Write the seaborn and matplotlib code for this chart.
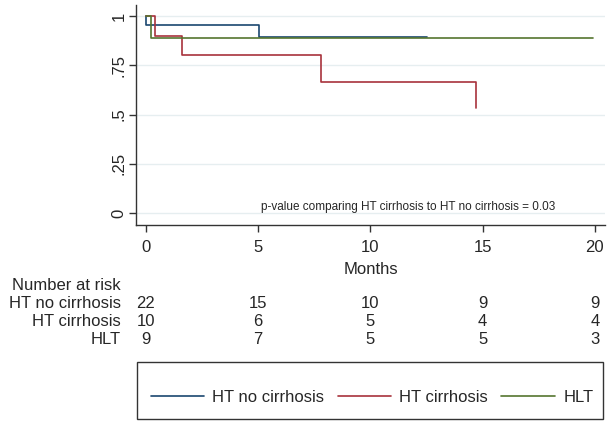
import pandas as pd
import seaborn as sns
import matplotlib.pyplot as plt
import matplotlib.transforms as mtransforms
from matplotlib.patches import Rectangle

# Kaplan-Meier step points (months, survival)
groups = ["HT no cirrhosis", "HT cirrhosis", "HLT"]
t_no_cirr = [0, 0.02, 5.05, 12.5]
s_no_cirr = [1, 0.955, 0.891, 0.891]
t_cirr = [0, 0.4, 1.6, 7.8, 14.7]
s_cirr = [1, 0.9, 0.8, 0.667, 0.533]
t_hlt = [0, 0.22, 19.9]
s_hlt = [1, 0.889, 0.889]

risk_times = [0, 5, 10, 15, 20]
risk_no_cirr = [22, 15, 10, 9, 9]
risk_cirr = [10, 6, 5, 4, 4]
risk_hlt = [9, 7, 5, 5, 3]

colors = {"HT no cirrhosis": "#1a476f", "HT cirrhosis": "#a8323c", "HLT": "#55752f"}

df = pd.concat([
    pd.DataFrame({"time": t_no_cirr, "surv": s_no_cirr, "group": groups[0]}),
    pd.DataFrame({"time": t_cirr, "surv": s_cirr, "group": groups[1]}),
    pd.DataFrame({"time": t_hlt, "surv": s_hlt, "group": groups[2]}),
])

sns.set_style("white")
plt.rcParams['font.family'] = ['Liberation Sans', 'DejaVu Sans']

fig = plt.figure(figsize=(6.11, 4.23), dpi=100)
W, H = 611, 423
ax = fig.add_axes([136 / W, 1 - 225 / H, (605 - 136) / W, (225 - 5) / H])

for g in groups:
    sub = df[df["group"] == g]
    sns.lineplot(data=sub, x="time", y="surv", ax=ax, color=colors[g],
                 drawstyle="steps-post", linewidth=1.2, label=g, legend=False,
                 estimator=None, sort=False)

ax.set_xlim(-0.445, 20.45)
ax.set_ylim(-0.061, 1.056)
ax.set_xticks(risk_times)
ax.set_yticks([0, 0.25, 0.5, 0.75, 1])
ax.set_yticklabels(["0", ".25", ".5", ".75", "1"], rotation=90, va="center")
ax.yaxis.grid(True, color="#e6eef0", linewidth=1)
ax.set_axisbelow(True)
ax.tick_params(axis="both", direction="out", length=5, width=1, color="#333333",
               labelsize=12, left=True, bottom=True)
ax.tick_params(axis="x", pad=6)
ax.tick_params(axis="y", pad=2)
for side in ["top", "right"]:
    ax.spines[side].set_visible(False)
for side in ["left", "bottom"]:
    ax.spines[side].set_color("#333333")
    ax.spines[side].set_linewidth(1)
ax.set_xlabel("Months", fontsize=12, labelpad=5)
ax.set_ylabel("")

ax.text(11.67, 0.03, "p-value comparing HT cirrhosis to HT no cirrhosis = 0.03",
        fontsize=8.5, ha="center", va="center")

# number at risk table
trans = mtransforms.blended_transform_factory(ax.transData, fig.transFigure)
fig.text(121 / W, 1 - 285 / H, "Number at risk", fontsize=12, ha="right", va="center")
rows = [risk_no_cirr, risk_cirr, risk_hlt]
row_y = [303, 321, 339]
for g, vals, yy in zip(groups, rows, row_y):
    fig.text(121 / W, 1 - yy / H, g, fontsize=12, ha="right", va="center")
    for t, v in zip(risk_times, vals):
        ax.text(t, 1 - yy / H, str(v), transform=trans, fontsize=12,
                ha="center", va="center", clip_on=False)

# legend box
fig.patches.append(Rectangle((137 / W, 1 - 419 / H), (603 - 137) / W, (419 - 362) / H,
                             transform=fig.transFigure, fill=False,
                             edgecolor="#333333", linewidth=1))
handles = [plt.Line2D([], [], color=colors[g], linewidth=1.2) for g in groups]
fig.legend(handles, groups, loc="center", bbox_to_anchor=(372 / W, 1 - 397 / H),
           ncol=3, frameon=False, fontsize=12, handlelength=3.2,
           handletextpad=0.5, columnspacing=0.8)

fig.savefig("out.png", dpi=100)
